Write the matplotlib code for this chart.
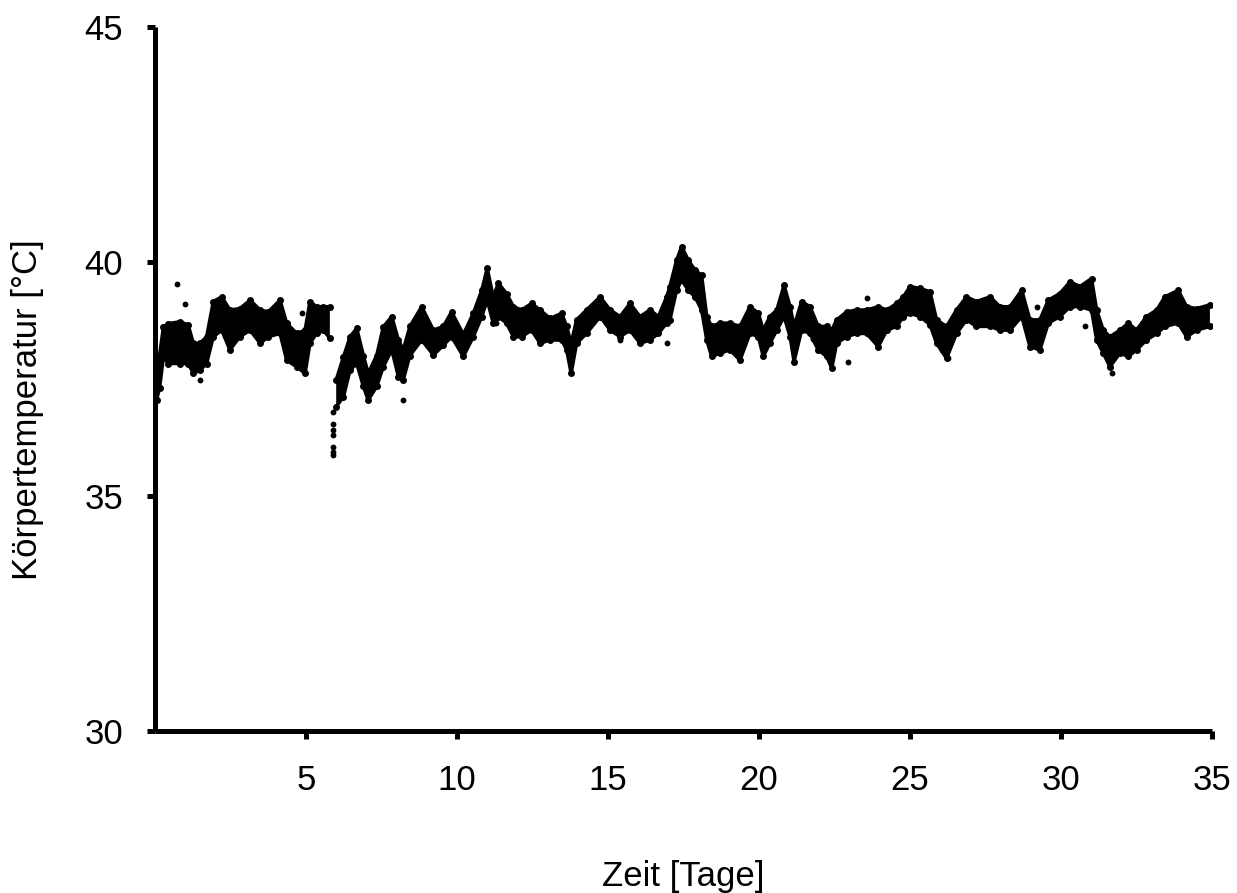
import numpy as np
import matplotlib
matplotlib.use("Agg")
import matplotlib.pyplot as plt

plt.rcParams['font.family'] = ['Liberation Sans', 'DejaVu Sans']

# Tagesachse und Ober-/Untergrenze des Punktbandes
tage = [0.05, 0.15, 0.28, 0.44, 0.83, 1.10, 1.27, 1.49, 1.71, 1.93, 2.21, 2.48, 2.81,
        3.15, 3.48, 3.75, 4.14, 4.36, 4.69, 4.97, 5.13, 5.35, 5.57, 5.79, 5.84,
        6.00, 6.24, 6.46, 6.68, 6.90, 7.06, 7.34, 7.56, 7.84, 8.06, 8.22, 8.44,
        8.83, 9.22, 9.55, 9.82, 10.21, 10.54, 10.82, 11.00, 11.20, 11.37, 11.64,
        11.87, 12.14, 12.47, 12.75, 13.08, 13.47, 13.63, 13.78, 13.96, 14.29,
        14.74, 15.07, 15.40, 15.73, 16.06, 16.39, 16.67, 16.94,
        17.05, 17.27, 17.44, 17.66, 17.88, 18.10, 18.27, 18.43, 18.71, 19.04,
        19.37, 19.70, 19.98, 20.14, 20.36, 20.59, 20.83, 21.03, 21.16, 21.41,
        21.69, 21.96, 22.24, 22.41, 22.57, 22.90, 23.23, 23.56, 23.95, 24.23,
        24.56, 24.78, 25.00, 25.33, 25.66,
        25.88, 26.21, 26.54, 26.87, 27.20, 27.65, 27.98, 28.31, 28.70, 28.97,
        29.30, 29.58, 29.96, 30.30, 30.63, 31.01, 31.18, 31.40, 31.62, 31.95,
        32.23, 32.50, 32.83, 33.17, 33.44, 33.88, 34.16, 34.49, 34.93]
unten = [37.05, 37.30, 37.97, 37.83, 37.83, 37.83, 37.62, 37.69, 37.83, 38.40, 38.54, 38.12, 38.40,
         38.54, 38.26, 38.40, 38.47, 37.90, 37.76, 37.62, 38.26, 38.47, 38.54, 38.37, np.nan,
         36.91, 37.12, 37.69, 37.83, 37.34, 37.05, 37.34, 37.76, 38.12, 37.55, 37.48, 38.00,
         38.33, 38.01, 38.22, 38.40, 37.98, 38.40, 38.83, 39.18, 38.69, 38.83, 38.69,
         38.40, 38.40, 38.54, 38.26, 38.33, 38.33, 38.12, 37.62, 38.26, 38.47,
         38.83, 38.54, 38.40, 38.54, 38.26, 38.33, 38.47, 38.69,
         38.76, 39.39, 39.61, 39.39, 39.25, 38.97, 38.33, 37.98, 38.05, 38.12,
         37.90, 38.47, 38.40, 37.98, 38.26, 38.54, 38.83, 38.40, 37.87, 38.54,
         38.47, 38.12, 37.98, 37.73, 38.26, 38.40, 38.47, 38.47, 38.19, 38.54,
         38.62, 38.83, 38.90, 38.83, 38.66,
         38.26, 37.94, 38.47, 38.76, 38.62, 38.62, 38.54, 38.54, 38.83, 38.19,
         38.12, 38.69, 38.83, 39.04, 39.04, 38.97, 38.33, 38.05, 37.76, 38.05,
         37.98, 38.12, 38.33, 38.47, 38.62, 38.69, 38.40, 38.54, 38.62]
oben = [37.55, 38.00, 38.61, 38.68, 38.72, 38.65, 38.26, 38.26, 38.40, 39.15, 39.25, 38.97, 39.00,
        39.18, 38.97, 38.93, 39.18, 38.69, 38.47, 38.54, 39.15, 39.04, 39.04, 39.04, np.nan,
        37.48, 37.97, 38.40, 38.58, 38.00, 37.62, 38.00, 38.61, 38.83, 38.33, 38.12, 38.62,
        39.04, 38.54, 38.62, 38.93, 38.45, 38.90, 39.39, 39.86, 39.25, 39.54, 39.32,
        39.04, 38.97, 39.11, 38.97, 38.79, 38.90, 38.62, 38.26, 38.76, 38.97,
        39.25, 38.97, 38.83, 39.11, 38.83, 38.97, 38.83, 39.25,
        39.47, 40.03, 40.32, 40.03, 39.82, 39.71, 38.83, 38.62, 38.69, 38.69,
        38.62, 39.04, 38.90, 38.54, 38.83, 38.97, 39.50, 39.04, 38.62, 39.15,
        39.04, 38.62, 38.62, 38.54, 38.76, 38.93, 38.97, 38.97, 39.04, 38.97,
        39.11, 39.25, 39.47, 39.43, 39.36,
        38.76, 38.62, 38.97, 39.25, 39.15, 39.25, 39.04, 39.04, 39.39, 38.76,
        38.76, 39.18, 39.32, 39.57, 39.47, 39.64, 38.97, 38.54, 38.40, 38.54,
        38.69, 38.54, 38.83, 38.97, 39.25, 39.39, 39.04, 39.00, 39.08]

# Einzelne abseits liegende Messpunkte
aus_tage = [0.72, 0.99, 1.49, 4.86, 5.88, 5.88, 5.88, 5.88, 5.88, 5.88, 5.88, 8.22,
            11.29, 15.40, 16.94, 21.80, 22.96, 23.56, 26.05, 26.27, 29.19, 30.79, 31.68]
aus_temp = [39.52, 39.10, 37.48, 38.90, 36.80, 36.55, 36.41, 36.31, 36.06, 35.95, 35.88, 37.05,
            38.69, 38.33, 38.26, 38.36, 37.87, 39.22, 38.12, 37.94, 39.03, 38.62, 37.62]

fig = plt.figure(figsize=(12.37, 8.93), dpi=100)
ax = fig.add_axes([0.1253, 0.1814, 0.8545, 0.7884])

ax.fill_between(tage, unten, oben, color='black', linewidth=0)
ax.plot(tage, unten, color='black', lw=2.5, marker='o', markersize=4, solid_joinstyle='round')
ax.plot(tage, oben, color='black', lw=2.5, marker='o', markersize=4, solid_joinstyle='round')
ax.plot(aus_tage, aus_temp, 'o', color='black', markersize=4.2, markeredgewidth=0)

ax.set_xlim(0, 35)
ax.set_ylim(30, 45)
ax.set_xticks([5, 10, 15, 20, 25, 30, 35])
ax.set_yticks([30, 35, 40, 45])

for s in ['top', 'right']:
    ax.spines[s].set_visible(False)
for s in ['left', 'bottom']:
    ax.spines[s].set_linewidth(3.6)
    ax.spines[s].set_capstyle('butt')

ax.tick_params(axis='both', direction='out', length=6, width=3.6,
               labelsize=25, pad=17, colors='black')
ax.tick_params(axis='x', pad=18)

ax.set_xlabel('Zeit [Tage]', fontsize=25, labelpad=45)
ax.set_ylabel('Körpertemperatur [°C]', fontsize=25)
ax.yaxis.set_label_coords(-0.105, 0.456)

fig.savefig('out.png', dpi=100)
